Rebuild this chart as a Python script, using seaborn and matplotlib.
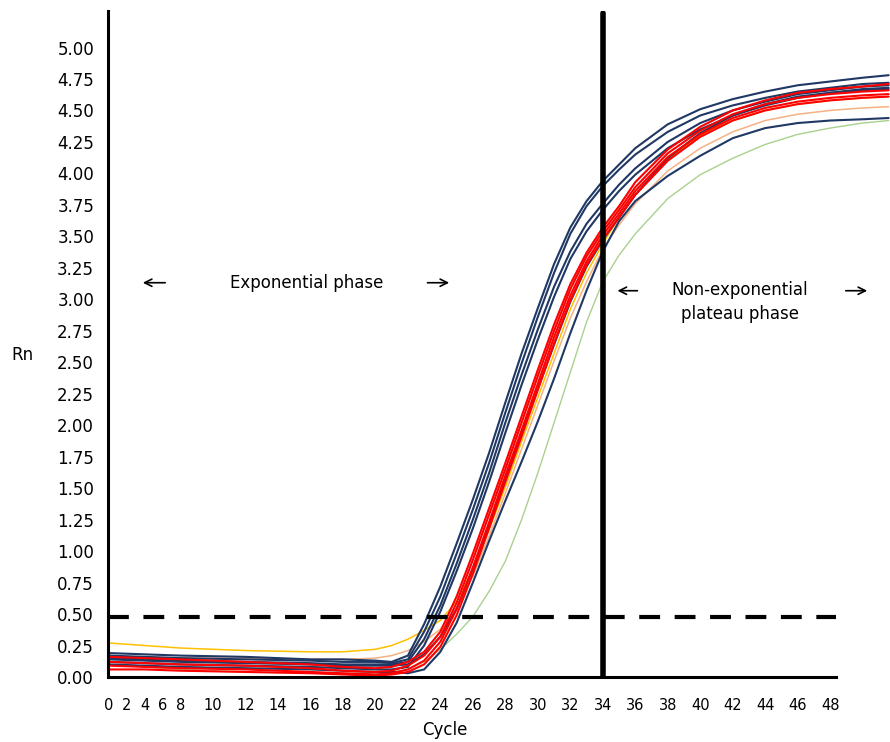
import numpy as np
import pandas as pd
import matplotlib
matplotlib.use("Agg")
import matplotlib.pyplot as plt
import seaborn as sns

# Amplification data (Rn per cycle)
cycles = [0, 4, 8, 12, 16, 18, 20, 21, 22, 23, 24, 25, 26, 27, 28, 29, 30, 31, 32, 33,
          34, 35, 36, 38, 40, 42, 44, 46, 48, 50, 51.6]

navy_1 = [0.19, 0.18, 0.17, 0.16, 0.14, 0.14, 0.13, 0.12, 0.17, 0.42, 0.72, 1.06, 1.41, 1.78, 2.18, 2.57,
          2.93, 3.28, 3.57, 3.78, 3.94, 4.07, 4.20, 4.39, 4.51, 4.59, 4.65, 4.70, 4.73, 4.76, 4.78]
navy_2 = [0.17, 0.16, 0.15, 0.14, 0.13, 0.12, 0.12, 0.11, 0.14, 0.36, 0.64, 0.98, 1.33, 1.70, 2.10, 2.49,
          2.86, 3.21, 3.52, 3.74, 3.90, 4.03, 4.15, 4.33, 4.46, 4.54, 4.60, 4.65, 4.68, 4.71, 4.72]
navy_3 = [0.15, 0.14, 0.13, 0.12, 0.11, 0.10, 0.10, 0.10, 0.12, 0.30, 0.57, 0.90, 1.25, 1.62, 2.02, 2.40,
          2.76, 3.10, 3.38, 3.60, 3.76, 3.91, 4.04, 4.25, 4.40, 4.50, 4.57, 4.63, 4.66, 4.69, 4.70]
navy_4 = [0.12, 0.11, 0.10, 0.09, 0.08, 0.07, 0.06, 0.06, 0.08, 0.25, 0.52, 0.84, 1.18, 1.55, 1.94, 2.32,
          2.68, 3.02, 3.32, 3.54, 3.71, 3.86, 3.99, 4.20, 4.35, 4.46, 4.54, 4.60, 4.64, 4.67, 4.68]
navy_5 = [0.10, 0.09, 0.08, 0.07, 0.06, 0.05, 0.04, 0.04, 0.03, 0.06, 0.20, 0.43, 0.75, 1.08, 1.40, 1.71,
          2.03, 2.37, 2.73, 3.07, 3.38, 3.62, 3.78, 3.98, 4.14, 4.28, 4.36, 4.40, 4.42, 4.43, 4.44]
navy_6 = [0.14, 0.13, 0.12, 0.11, 0.10, 0.09, 0.09, 0.09, 0.10, 0.18, 0.32, 0.54, 0.86, 1.21, 1.57, 1.93,
          2.29, 2.64, 2.98, 3.26, 3.47, 3.65, 3.83, 4.12, 4.32, 4.46, 4.55, 4.61, 4.64, 4.66, 4.67]
red_1 = [0.16, 0.15, 0.14, 0.12, 0.10, 0.08, 0.07, 0.08, 0.12, 0.20, 0.36, 0.64, 0.98, 1.34, 1.70, 2.07,
         2.44, 2.80, 3.12, 3.37, 3.57, 3.74, 3.93, 4.19, 4.37, 4.50, 4.58, 4.64, 4.67, 4.69, 4.71]
red_2 = [0.12, 0.11, 0.10, 0.09, 0.07, 0.05, 0.04, 0.05, 0.09, 0.17, 0.32, 0.59, 0.93, 1.29, 1.65, 2.02,
         2.39, 2.75, 3.08, 3.34, 3.54, 3.71, 3.89, 4.16, 4.34, 4.47, 4.55, 4.60, 4.63, 4.65, 4.66]
red_3 = [0.09, 0.08, 0.07, 0.06, 0.04, 0.03, 0.02, 0.03, 0.06, 0.13, 0.28, 0.54, 0.87, 1.23, 1.60, 1.96,
         2.33, 2.70, 3.03, 3.30, 3.51, 3.68, 3.86, 4.13, 4.31, 4.44, 4.52, 4.57, 4.60, 4.62, 4.63]
red_4 = [0.06, 0.06, 0.05, 0.04, 0.03, 0.02, 0.01, 0.02, 0.04, 0.10, 0.24, 0.49, 0.82, 1.18, 1.55, 1.91,
         2.28, 2.65, 2.99, 3.27, 3.48, 3.65, 3.83, 4.10, 4.29, 4.42, 4.50, 4.55, 4.58, 4.60, 4.61]
yellow_1 = [0.27, 0.25, 0.23, 0.21, 0.20, 0.20, 0.22, 0.25, 0.30, 0.37, 0.45, 0.60, 0.86, 1.17, 1.51, 1.87,
            2.22, 2.57, 2.92, 3.21, 3.44, 3.65, 3.83, 4.11, 4.30, 4.42, 4.50, 4.55, 4.58, 4.60, 4.61]
orange_1 = [0.16, 0.16, 0.15, 0.15, 0.14, 0.14, 0.15, 0.17, 0.21, 0.28, 0.38, 0.55, 0.80, 1.12, 1.46, 1.81,
            2.16, 2.51, 2.85, 3.14, 3.40, 3.59, 3.76, 4.02, 4.20, 4.33, 4.42, 4.47, 4.50, 4.52, 4.53]
green_1 = [0.10, 0.08, 0.06, 0.04, 0.03, 0.03, 0.03, 0.04, 0.06, 0.12, 0.22, 0.34, 0.48, 0.68, 0.92, 1.25,
           1.62, 2.02, 2.42, 2.82, 3.14, 3.35, 3.52, 3.80, 3.99, 4.12, 4.23, 4.31, 4.36, 4.40, 4.42]

threshold = 0.48
plateau_cycle = 34
xtick_values = list(range(0, 50, 2))
ytick_values = [i * 0.25 for i in range(21)]

# drawing order: thin ones first, red on top
curves = [
    ("green_1", green_1, "#a9d18e", 1.0),
    ("orange_1", orange_1, "#f4b183", 1.1),
    ("yellow_1", yellow_1, "#ffc000", 1.1),
    ("navy_5", navy_5, "#1f3864", 1.5),
    ("navy_4", navy_4, "#1f3864", 1.5),
    ("navy_3", navy_3, "#1f3864", 1.5),
    ("navy_2", navy_2, "#1f3864", 1.5),
    ("navy_1", navy_1, "#1f3864", 1.5),
    ("navy_6", navy_6, "#1f3864", 1.5),
    ("red_4", red_4, "#ff0000", 1.5),
    ("red_3", red_3, "#ff0000", 1.5),
    ("red_2", red_2, "#ff0000", 1.5),
    ("red_1", red_1, "#ff0000", 1.5),
]

df = pd.concat([pd.DataFrame({"Cycle": cycles, "Rn": vals, "well": name}) for name, vals, _, _ in curves])

sns.set_style("white")
plt.rcParams["font.family"] = ["DejaVu Sans"]
plt.rcParams["text.color"] = "black"
plt.rcParams["axes.labelcolor"] = "black"
plt.rcParams["xtick.color"] = "black"
plt.rcParams["ytick.color"] = "black"

fig = plt.figure(figsize=(8.9, 7.42), dpi=100)
ax = fig.add_axes([108 / 890, 65 / 742, 728 / 890, 666 / 742])


# first cycles are squeezed together on the axis, like in the original
def fwd(x):
    x = np.asarray(x, dtype=float)
    return np.where(x < 8, 3.6 + 0.55 * x, x)


def inv(t):
    t = np.asarray(t, dtype=float)
    return np.where(t < 8, (t - 3.6) / 0.55, t)


ax.set_xscale("function", functions=(fwd, inv))

for name, vals, col, lw in curves:
    sns.lineplot(data=df[df["well"] == name], x="Cycle", y="Rn", color=col, linewidth=lw,
                 estimator=None, ax=ax, clip_on=False)

ax.axhline(threshold, color="black", linewidth=3, dashes=(5, 3.5), zorder=5)
ax.axvline(plateau_cycle, ymax=0.997, color="black", linewidth=4, zorder=5)

ax.set_xlim(-0.12, 48.36)
ax.set_ylim(0, 5.29)
ax.set_xticks(xtick_values)
ax.set_xticklabels([str(v) for v in xtick_values], fontsize=10.5)
ax.set_yticks(ytick_values)
ax.set_yticklabels([f"{v:.2f}" for v in ytick_values], fontsize=12)
ax.tick_params(axis="x", length=0, pad=15)
ax.tick_params(axis="y", length=0, pad=10)

sns.despine(ax=ax)
for side in ["left", "bottom"]:
    ax.spines[side].set_color("black")
    ax.spines[side].set_linewidth(2.2)

ax.set_xlabel("Cycle", fontsize=12, va="center")
ax.xaxis.set_label_coords(0.463, -0.08)
ax.set_ylabel("Rn", fontsize=12, rotation=0, va="center", ha="center")
ax.yaxis.set_label_coords(-0.118, 0.484)

# phase annotations
ax.text(0.273, 0.592, "Exponential phase", transform=ax.transAxes, fontsize=12, ha="center", va="center")
ax.text(0.868, 0.563, "Non-exponential\nplateau phase", transform=ax.transAxes, fontsize=12,
        ha="center", va="center", linespacing=1.45)
arrow = dict(arrowstyle="->", color="black", lw=1.2, mutation_scale=13)
ax.annotate("", xy=(0.044, 0.592), xytext=(0.0824, 0.592), xycoords="axes fraction", arrowprops=arrow)
ax.annotate("", xy=(0.4725, 0.592), xytext=(0.435, 0.592), xycoords="axes fraction", arrowprops=arrow)
ax.annotate("", xy=(0.696, 0.58), xytext=(0.731, 0.58), xycoords="axes fraction", arrowprops=arrow,
            annotation_clip=False)
ax.annotate("", xy=(1.0467, 0.58), xytext=(1.0096, 0.58), xycoords="axes fraction", arrowprops=arrow,
            annotation_clip=False)

fig.savefig("out.png", dpi=100)
